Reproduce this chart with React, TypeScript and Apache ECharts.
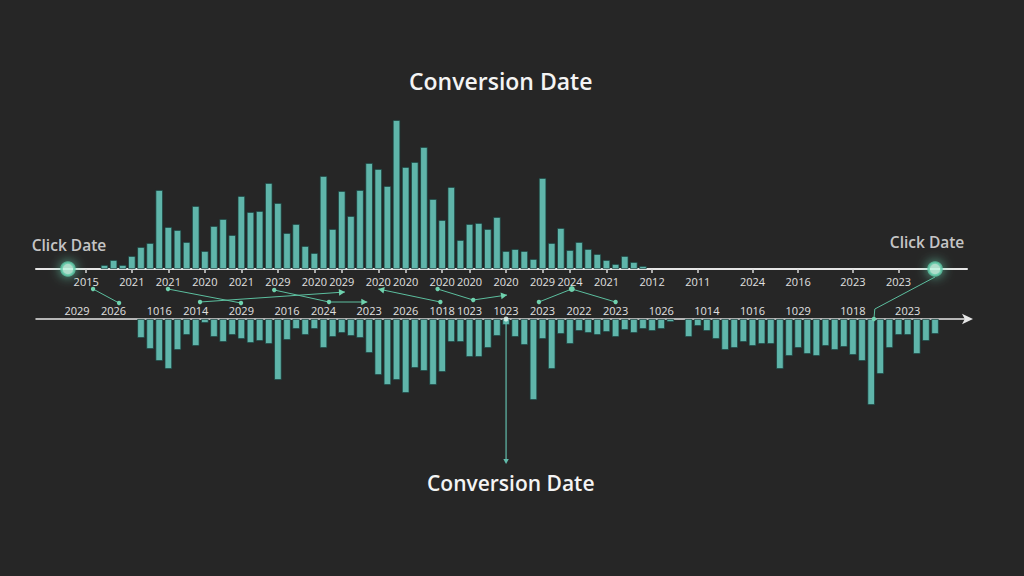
import React, { useEffect, useRef } from 'react';
import * as echarts from 'echarts';

// Shared time bins for both axes
const BIN_COUNT = 102;

// Click-date histogram (drawn above the upper axis)
const CLICK_START_BIN = 7;
const CLICK_COUNTS = [
  4, 9, 4, 13, 22, 26, 79, 42, 39, 27,
  63, 18, 43, 50, 34, 73, 57, 58, 86, 66,
  36, 45, 23, 16, 93, 40, 78, 53, 79, 106,
  100, 83, 149, 102, 107, 122, 70, 49, 82, 29,
  45, 46, 40, 52, 18, 20, 18, 10, 91, 26,
  41, 19, 27, 20, 15, 9, 5, 13, 7, 3,
];

// Conversion-date histogram (hanging below the lower axis)
const CONVERSION_START_BIN = 11;
const CONVERSION_COUNTS: (number | null)[] = [
  19, 30, 42, 50, 31, 16, 27, 4, 18, 23,
  16, 20, 24, 22, 25, 61, 21, 10, 16, 10,
  29, 18, 14, 17, 19, 34, 56, 66, 61, 74,
  49, 52, 66, 53, 23, 23, 38, 38, 29, 17,
  6, 18, 26, 81, 20, 50, 15, 25, 12, 14,
  16, 13, 18, 11, 14, 10, 12, 10, 3, null,
  18, 7, 12, 20, 31, 29, 23, 27, 25, 25,
  50, 37, 29, 35, 37, 27, 31, 28, 36, 42,
  86, 55, 29, 16, 16, 35, 22, 15,
];

// Tick labels of the upper (click) axis
const CLICK_TICK_BINS = [5, 10, 14, 18, 22, 26, 30, 33, 37, 40, 44, 47, 51, 55, 58, 62, 67, 72, 78, 83, 89, 94];
const CLICK_TICK_LABELS = [
  '2015', '2021', '2021', '2020', '2021', '2029', '2020', '2029', '2020', '2020', '2020',
  '2020', '2020', '2029', '2024', '2021', '2012', '2011', '2024', '2016', '2023', '2023',
];

// Tick labels of the lower (conversion) axis
const CONVERSION_TICK_BINS = [4, 8, 13, 17, 22, 27, 31, 36, 40, 44, 47, 51, 55, 59, 63, 68, 73, 78, 83, 89, 95];
const CONVERSION_TICK_LABELS = [
  '2029', '2026', '1016', '2014', '2029', '2016', '2024', '2023', '2026', '1018', '1023',
  '1023', '2023', '2022', '2023', '1026', '1014', '1016', '1029', '1018', '2023',
];

// Markers
const CLICK_MARKER_BINS = [3, 98];
const CONVERSION_MARKER_BIN = 51;

// Links between the two label rows: [bin, fraction of the gap between axes, end style]
type LinkPoint = [number, number, 'dot' | 'big' | 'arrow' | 'none'];
const LINKS: LinkPoint[][] = [
  [[5.75, 0.4, 'dot'], [8.6, 0.68, 'dot']],
  [[13.96, 0.4, 'dot'], [21.96, 0.68, 'dot']],
  [[17.47, 0.66, 'dot'], [33.35, 0.46, 'arrow']],
  [[25.6, 0.42, 'dot'], [31.6, 0.66, 'dot'], [35.8, 0.66, 'arrow']],
  [[43.8, 0.66, 'dot'], [37.0, 0.4, 'arrow']],
  [[43.5, 0.4, 'dot'], [47.4, 0.62, 'dot'], [51.1, 0.52, 'arrow']],
  [[54.6, 0.66, 'dot'], [58.2, 0.4, 'big'], [63.0, 0.66, 'dot']],
  [[98.0, 0.16, 'none'], [91.4, 0.8, 'none'], [91.3, 1.0, 'dot']],
];

const BAR_COLOR = '#5fb5aa';
const BAR_EDGE = 'rgba(24,62,58,0.9)';
const LINK_COLOR = '#5cbf9f';
const FONT = '"Open Sans", "Noto Sans", sans-serif';

const bins = Array.from({ length: BIN_COUNT }, (_, i) => String(i));

function spread(start: number, values: (number | null)[]) {
  return bins.map((_, i) => {
    const k = i - start;
    const v = k >= 0 && k < values.length ? values[k] : null;
    return v == null ? '-' : v;
  });
}

const clickTicks = new Map<number, string>(CLICK_TICK_BINS.map((b, i) => [b, CLICK_TICK_LABELS[i]]));
const conversionTicks = new Map<number, string>(
  CONVERSION_TICK_BINS.map((b, i) => [b, CONVERSION_TICK_LABELS[i]])
);

export default function App() {
  const ref = useRef<HTMLDivElement>(null);

  useEffect(() => {
    if (!ref.current) return;
    const chart = echarts.init(ref.current, null, { renderer: 'svg' });

    const option: any = {
      animation: false,
      backgroundColor: '#262626',
      title: [
        {
          text: 'Conversion Date',
          left: 409,
          top: 69,
          padding: 0,
          textStyle: { color: '#f4f4f4', fontSize: 23, fontWeight: 600, fontFamily: FONT },
        },
        {
          text: 'Conversion Date',
          left: 427,
          top: 472,
          padding: 0,
          textStyle: { color: '#f4f4f4', fontSize: 21, fontWeight: 600, fontFamily: FONT },
        },
      ],
      grid: [
        { left: 36, width: 931, top: 100, height: 169 },
        { left: 36, width: 931, top: 319, height: 100 },
      ],
      xAxis: [
        {
          type: 'category',
          gridIndex: 0,
          data: bins,
          position: 'bottom',
          axisLine: { lineStyle: { color: '#e6e6e6', width: 2 } },
          axisTick: {
            show: true,
            alignWithLabel: true,
            length: 4,
            interval: (i: number) => clickTicks.has(i),
            lineStyle: { color: '#d8d8d8', width: 1.5 },
          },
          axisLabel: {
            interval: (i: number) => clickTicks.has(i),
            formatter: (_v: string, i: number) => clickTicks.get(i) ?? '',
            color: '#e0e0e0',
            fontSize: 11,
            fontFamily: FONT,
            margin: 7,
          },
          splitLine: { show: false },
        },
        {
          type: 'category',
          gridIndex: 1,
          data: bins,
          position: 'top',
          axisLine: {
            lineStyle: { color: '#e6e6e6', width: 1.5 },
            symbol: ['none', 'arrow'],
            symbolSize: [8, 11],
            symbolOffset: [0, 6],
          },
          axisTick: { show: false },
          axisLabel: {
            interval: (i: number) => conversionTicks.has(i),
            formatter: (_v: string, i: number) => conversionTicks.get(i) ?? '',
            color: '#e0e0e0',
            fontSize: 11,
            fontFamily: FONT,
            margin: 3,
          },
          splitLine: { show: false },
        },
      ],
      yAxis: [
        { type: 'value', gridIndex: 0, min: 0, max: 169, show: false },
        { type: 'value', gridIndex: 1, min: 0, max: 100, inverse: true, show: false },
      ],
      series: [
        {
          type: 'bar',
          name: 'Click Date',
          xAxisIndex: 0,
          yAxisIndex: 0,
          data: spread(CLICK_START_BIN, CLICK_COUNTS),
          barWidth: '82%',
          itemStyle: { color: BAR_COLOR, borderColor: BAR_EDGE, borderWidth: 0.8 },
        },
        {
          type: 'bar',
          name: 'Conversion Date',
          xAxisIndex: 1,
          yAxisIndex: 1,
          data: spread(CONVERSION_START_BIN, CONVERSION_COUNTS),
          barWidth: '82%',
          itemStyle: { color: BAR_COLOR, borderColor: BAR_EDGE, borderWidth: 0.8 },
        },
        {
          type: 'scatter',
          xAxisIndex: 0,
          yAxisIndex: 0,
          z: 5,
          symbolSize: 13,
          data: [
            { value: [CLICK_MARKER_BINS[0], 0], label: { offset: [1, 0] } },
            { value: [CLICK_MARKER_BINS[1], 0], label: { offset: [-8, -3] } },
          ],
          itemStyle: {
            color: '#c6f6e4',
            borderColor: '#5ec8a6',
            borderWidth: 2.5,
            shadowBlur: 12,
            shadowColor: 'rgba(110,230,190,0.9)',
          },
          label: {
            show: true,
            position: 'top',
            distance: 8,
            formatter: 'Click Date',
            color: '#f2f2f2',
            fontSize: 15.5,
            fontWeight: 600,
            fontFamily: FONT,
          },
        },
        {
          type: 'scatter',
          xAxisIndex: 1,
          yAxisIndex: 1,
          z: 6,
          symbolSize: 5,
          data: [[CONVERSION_MARKER_BIN, 0]],
          itemStyle: { color: '#e9fff6' },
        },
      ],
    };

    chart.setOption(option);

    // Pixel positions through the axes' own scales
    const xStart = chart.convertToPixel({ xAxisIndex: 0 }, 0) as number;
    const pitch = (chart.convertToPixel({ xAxisIndex: 0 }, 1) as number) - xStart;
    const xAt = (b: number) => xStart + b * pitch;
    const yTop = chart.convertToPixel({ yAxisIndex: 0 }, 0) as number;
    const yBottom = chart.convertToPixel({ yAxisIndex: 1 }, 0) as number;
    const yAt = (t: number) => yTop + t * (yBottom - yTop);

    const elements: any[] = [];
    const arrowHead = (from: number[], to: number[], size: number, color: string) => {
      const dx = to[0] - from[0];
      const dy = to[1] - from[1];
      const len = Math.hypot(dx, dy) || 1;
      const ux = dx / len;
      const uy = dy / len;
      const bx = to[0] - ux * size;
      const by = to[1] - uy * size;
      const hw = size * 0.55;
      return {
        type: 'polygon',
        silent: true,
        z: 20,
        shape: { points: [to, [bx - uy * hw, by + ux * hw], [bx + uy * hw, by - ux * hw]] },
        style: { fill: color },
      };
    };

    LINKS.forEach((link) => {
      const pts = link.map(([b, t]) => [xAt(b), yAt(t)]);
      elements.push({
        type: 'polyline',
        silent: true,
        z: 15,
        shape: { points: pts },
        style: { stroke: LINK_COLOR, lineWidth: 1, fill: null },
      });
      link.forEach(([, , kind], i) => {
        if (kind === 'dot' || kind === 'big') {
          elements.push({
            type: 'circle',
            silent: true,
            z: 20,
            shape: { cx: pts[i][0], cy: pts[i][1], r: kind === 'big' ? 3 : 2.2 },
            style: { fill: '#6fd2ae' },
          });
        } else if (kind === 'arrow' && i > 0) {
          elements.push(arrowHead(pts[i - 1], pts[i], 6, '#6fd2ae'));
        }
      });
    });

    // Drop line from the conversion marker down to its label
    const mx = chart.convertToPixel({ xAxisIndex: 1 }, CONVERSION_MARKER_BIN) as number;
    const lineEnd = yBottom + 145;
    elements.push({
      type: 'line',
      silent: true,
      z: 4,
      shape: { x1: mx, y1: yBottom, x2: mx, y2: lineEnd - 3 },
      style: { stroke: '#62bcac', lineWidth: 1.2 },
    });
    elements.push(arrowHead([mx, yBottom], [mx, lineEnd], 5, '#62bcac'));

    chart.setOption({ graphic: { elements } });

    return () => chart.dispose();
  }, []);

  return (
    <div
      ref={ref}
      style={{ position: 'fixed', left: 0, top: 0, width: 1024, height: 576 }}
    />
  );
}
